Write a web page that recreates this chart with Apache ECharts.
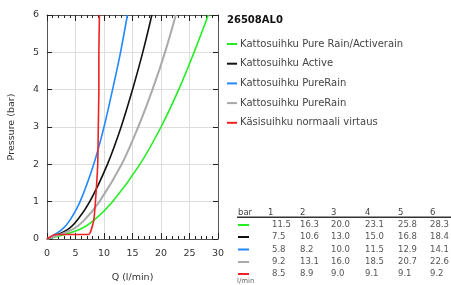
<!DOCTYPE html>
<html><head><meta charset="utf-8">
<script src="https://cdn.jsdelivr.net/npm/echarts@6/dist/echarts.min.js"></script>
<style>html,body{margin:0;padding:0;background:#fff}#c{width:451px;height:285px}</style>
</head><body><div id="c"></div>
<script>
const pressures = [0, 1, 2, 3, 4, 5, 6];
const names = ['Kattosuihku Pure Rain/Activerain','Kattosuihku Active','Kattosuihku PureRain','Kattosuihku PureRain','Käsisuihku normaali virtaus'];
const colors = ['#22ee22','#111111','#2288ff','#aaaaaa','#ee2222'];
const flowGreen = [0, 11.5, 16.3, 20.0, 23.1, 25.8, 28.3];
const flowBlack = [0, 7.5, 10.6, 13.0, 15.0, 16.8, 18.4];
const flowBlue = [0, 5.8, 8.2, 10.0, 11.5, 12.9, 14.1];
const flowGray = [0, 9.2, 13.1, 16.0, 18.5, 20.7, 22.6];
const flowRed = [0, 8.5, 8.9, 9.0, 9.1, 9.1, 9.2];
// extra low-pressure points (pressures 0.25 and 0.5 bar)
const lowP = [0.25, 0.5];
const lowGreen = [5.6, 8.2];
const lowBlack = [3.6, 5.3];
const lowBlue = [2.6, 4.0];
const lowGray = [4.4, 6.5];
// extra points of red curve near low pressure
const redLowQ = [1.4, 7.3, 8.2];
const redLowP = [0.12, 0.12, 0.5];
const tableHeader = ['bar','1','2','3','4','5','6'];
const title = '26508AL0';

const flows = [flowGreen, flowBlack, flowBlue, flowGray, flowRed];
const lows = [lowGreen, lowBlack, lowBlue, lowGray];
function pts(f, low){
  const a = [[f[0], pressures[0]]];
  low.forEach((q,i)=>a.push([q, lowP[i]]));
  f.slice(1).forEach((q,i)=>a.push([q, pressures[i+1]]));
  return a;
}
const redPts = [[flowRed[0],pressures[0]]].concat(redLowQ.map((q,i)=>[q,redLowP[i]])).concat(flowRed.slice(1).map((q,i)=>[q,pressures[i+1]]));

const series = flows.map((f,i)=>({
  name: names[i] + (i===3?' ':''),
  type:'line', xAxisIndex:0, yAxisIndex:0,
  data: i===4 ? redPts : pts(f, lows[i]),
  smooth: i===4 ? 0.15 : 0.35,
  showSymbol:false, symbol:'none',
  lineStyle:{color:colors[i], width: i===3?2:1.6},
  itemStyle:{color:colors[i]},
  z: i===4?5:3
}));

const font = 'DejaVu Sans';
const chart = echarts.init(document.getElementById('c'), null, {renderer:'canvas'});

const graphics = [];
const headX = [238, 268, 300, 331, 365, 398, 430];
const valX = [272, 300, 331, 365, 398, 430];
tableHeader.forEach((t,j)=>{
  graphics.push({type:'text', x: headX[j], y: 213, style:{text:t, font:'8.5px "DejaVu Sans"', fill:'#444', textVerticalAlign:'middle'}});
});
graphics.push({type:'rect', shape:{x:237, y:216.5, width:214, height:1.6}, style:{fill:'#333'}});
const rowY = [225, 237, 249.5, 262, 274];
flows.forEach((f,i)=>{
  graphics.push({type:'rect', shape:{x:238, y:rowY[i]-1, width:11, height:2}, style:{fill:colors[i]}});
  f.slice(1).forEach((v,j)=>{
    graphics.push({type:'text', x: valX[j], y: rowY[i], style:{text:v.toFixed(1), font:'8.5px "DejaVu Sans"', fill:'#555', textVerticalAlign:'middle'}});
  });
});
graphics.push({type:'text', x:237, y:281.5, style:{text:'l/min', font:'7px "DejaVu Sans"', fill:'#666', textVerticalAlign:'middle'}});

chart.setOption({
  animation:false,
  textStyle:{fontFamily:font},
  title:{text:title, left:222, top:10, textStyle:{fontFamily:font, fontSize:10, fontWeight:'bold', color:'#111'}},
  legend:{
    orient:'vertical', left:222, top:34, itemGap:9.7, itemWidth:10, itemHeight:2, icon:'rect',
    textStyle:{fontFamily:font, fontSize:10, color:'#444', padding:[0,0,0,-2]},
    data: series.map(s=>s.name)
  },
  grid:{left:47, right:233, top:15, bottom:46, show:false, containLabel:false, outerBoundsMode:'none'},
  xAxis:[{
    type:'value', min:0, max:30, interval:5, position:'bottom',
    name:'Q (l/min)', nameLocation:'middle', nameGap:34,
    nameTextStyle:{fontFamily:font, fontSize:9.5, color:'#333'},
    axisLine:{show:true, onZero:false, lineStyle:{color:'#555', width:1}},
    axisTick:{show:true, inside:true, length:6, lineStyle:{color:'#222'}},
    minorTick:{show:true, splitNumber:5, length:3, lineStyle:{color:'#222'}},
    axisLabel:{fontFamily:font, fontSize:9.5, color:'#333', margin:10},
    splitLine:{show:true, lineStyle:{color:'#dddddd', width:1}}
  },{
    type:'value', min:0, max:30, interval:5, position:'top',
    axisLine:{show:true, onZero:false, lineStyle:{color:'#555', width:1}},
    axisTick:{show:true, inside:true, length:6, lineStyle:{color:'#222'}},
    minorTick:{show:true, splitNumber:5, length:3, lineStyle:{color:'#222'}},
    axisLabel:{show:false}, splitLine:{show:false}
  }],
  yAxis:[{
    type:'value', min:0, max:6, interval:1, position:'left',
    name:'Pressure (bar)', nameLocation:'middle', nameGap:30, nameRotate:90,
    nameTextStyle:{fontFamily:font, fontSize:9.5, color:'#333'},
    axisLine:{show:true, onZero:false, lineStyle:{color:'#555', width:1}},
    axisTick:{show:true, inside:true, length:5, lineStyle:{color:'#222'}},
    axisLabel:{fontFamily:font, fontSize:9.5, color:'#333', margin:8},
    splitLine:{show:true, lineStyle:{color:'#dddddd', width:1}}
  },{
    type:'value', min:0, max:6, interval:1, position:'right',
    axisLine:{show:true, onZero:false, lineStyle:{color:'#555', width:1}},
    axisTick:{show:true, inside:true, length:5, lineStyle:{color:'#222'}},
    axisLabel:{show:false}, splitLine:{show:false}
  }],
  series: series,
  graphic: graphics
});
</script></body></html>
